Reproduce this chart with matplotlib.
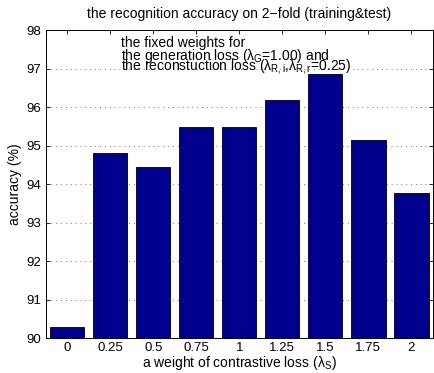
import matplotlib

matplotlib.use("Agg")

import matplotlib.pyplot as plt

plt.rcParams["font.family"] = ["Liberation Sans", "DejaVu Sans"]
plt.rcParams["mathtext.fontset"] = "custom"
plt.rcParams["mathtext.rm"] = "Liberation Sans"
plt.rcParams["mathtext.it"] = "Liberation Sans"

weights = ["0", "0.25", "0.5", "0.75", "1", "1.25", "1.5", "1.75", "2"]
accuracy = [90.29, 94.80, 94.45, 95.49, 95.49, 96.18, 96.87, 95.14, 93.76]
y_ticks = [90, 91, 92, 93, 94, 95, 96, 97, 98]

fig = plt.figure(figsize=(4.35, 3.73), dpi=100)
ax = fig.add_axes([0.105, 0.093, 0.89, 0.8265])

pos = list(range(len(weights)))
ax.bar(pos, accuracy, width=0.8, bottom=0, color="#00008f",
       edgecolor="black", linewidth=0.6, zorder=2)
ax.set_ylim(90, 98)
ax.set_xlim(-0.5, len(weights) - 0.5)
ax.set_xticks(pos)
ax.set_xticklabels(weights)
ax.set_yticks(y_ticks)
ax.yaxis.grid(True, linestyle=(0, (1, 4)), color="#777777", linewidth=0.7, zorder=0)
ax.tick_params(direction="in", top=True, right=True, labelsize=9.5,
               length=3, width=0.6, pad=3)
for s in ax.spines.values():
    s.set_linewidth(0.7)

ax.set_title("the recognition accuracy on 2\u2212fold (training&test)", fontsize=10, pad=9)
ax.set_xlabel("a weight of contrastive loss (\u03bb$_S$)", fontsize=10, labelpad=0)
ax.set_ylabel("accuracy (%)", fontsize=10, labelpad=3)

note = [
    "the fixed weights for",
    "the generation loss (\u03bb$_G$=1.00) and",
    "the reconstuction loss (\u03bb$_{R,i}$,\u03bb$_{R,r}$=0.25)",
]
for i, line in enumerate(note):
    ax.text(0.194, 0.98 - i * 0.034, line, transform=ax.transAxes,
            fontsize=10, va="top", ha="left", zorder=3)

fig.savefig("out.png", dpi=100)
